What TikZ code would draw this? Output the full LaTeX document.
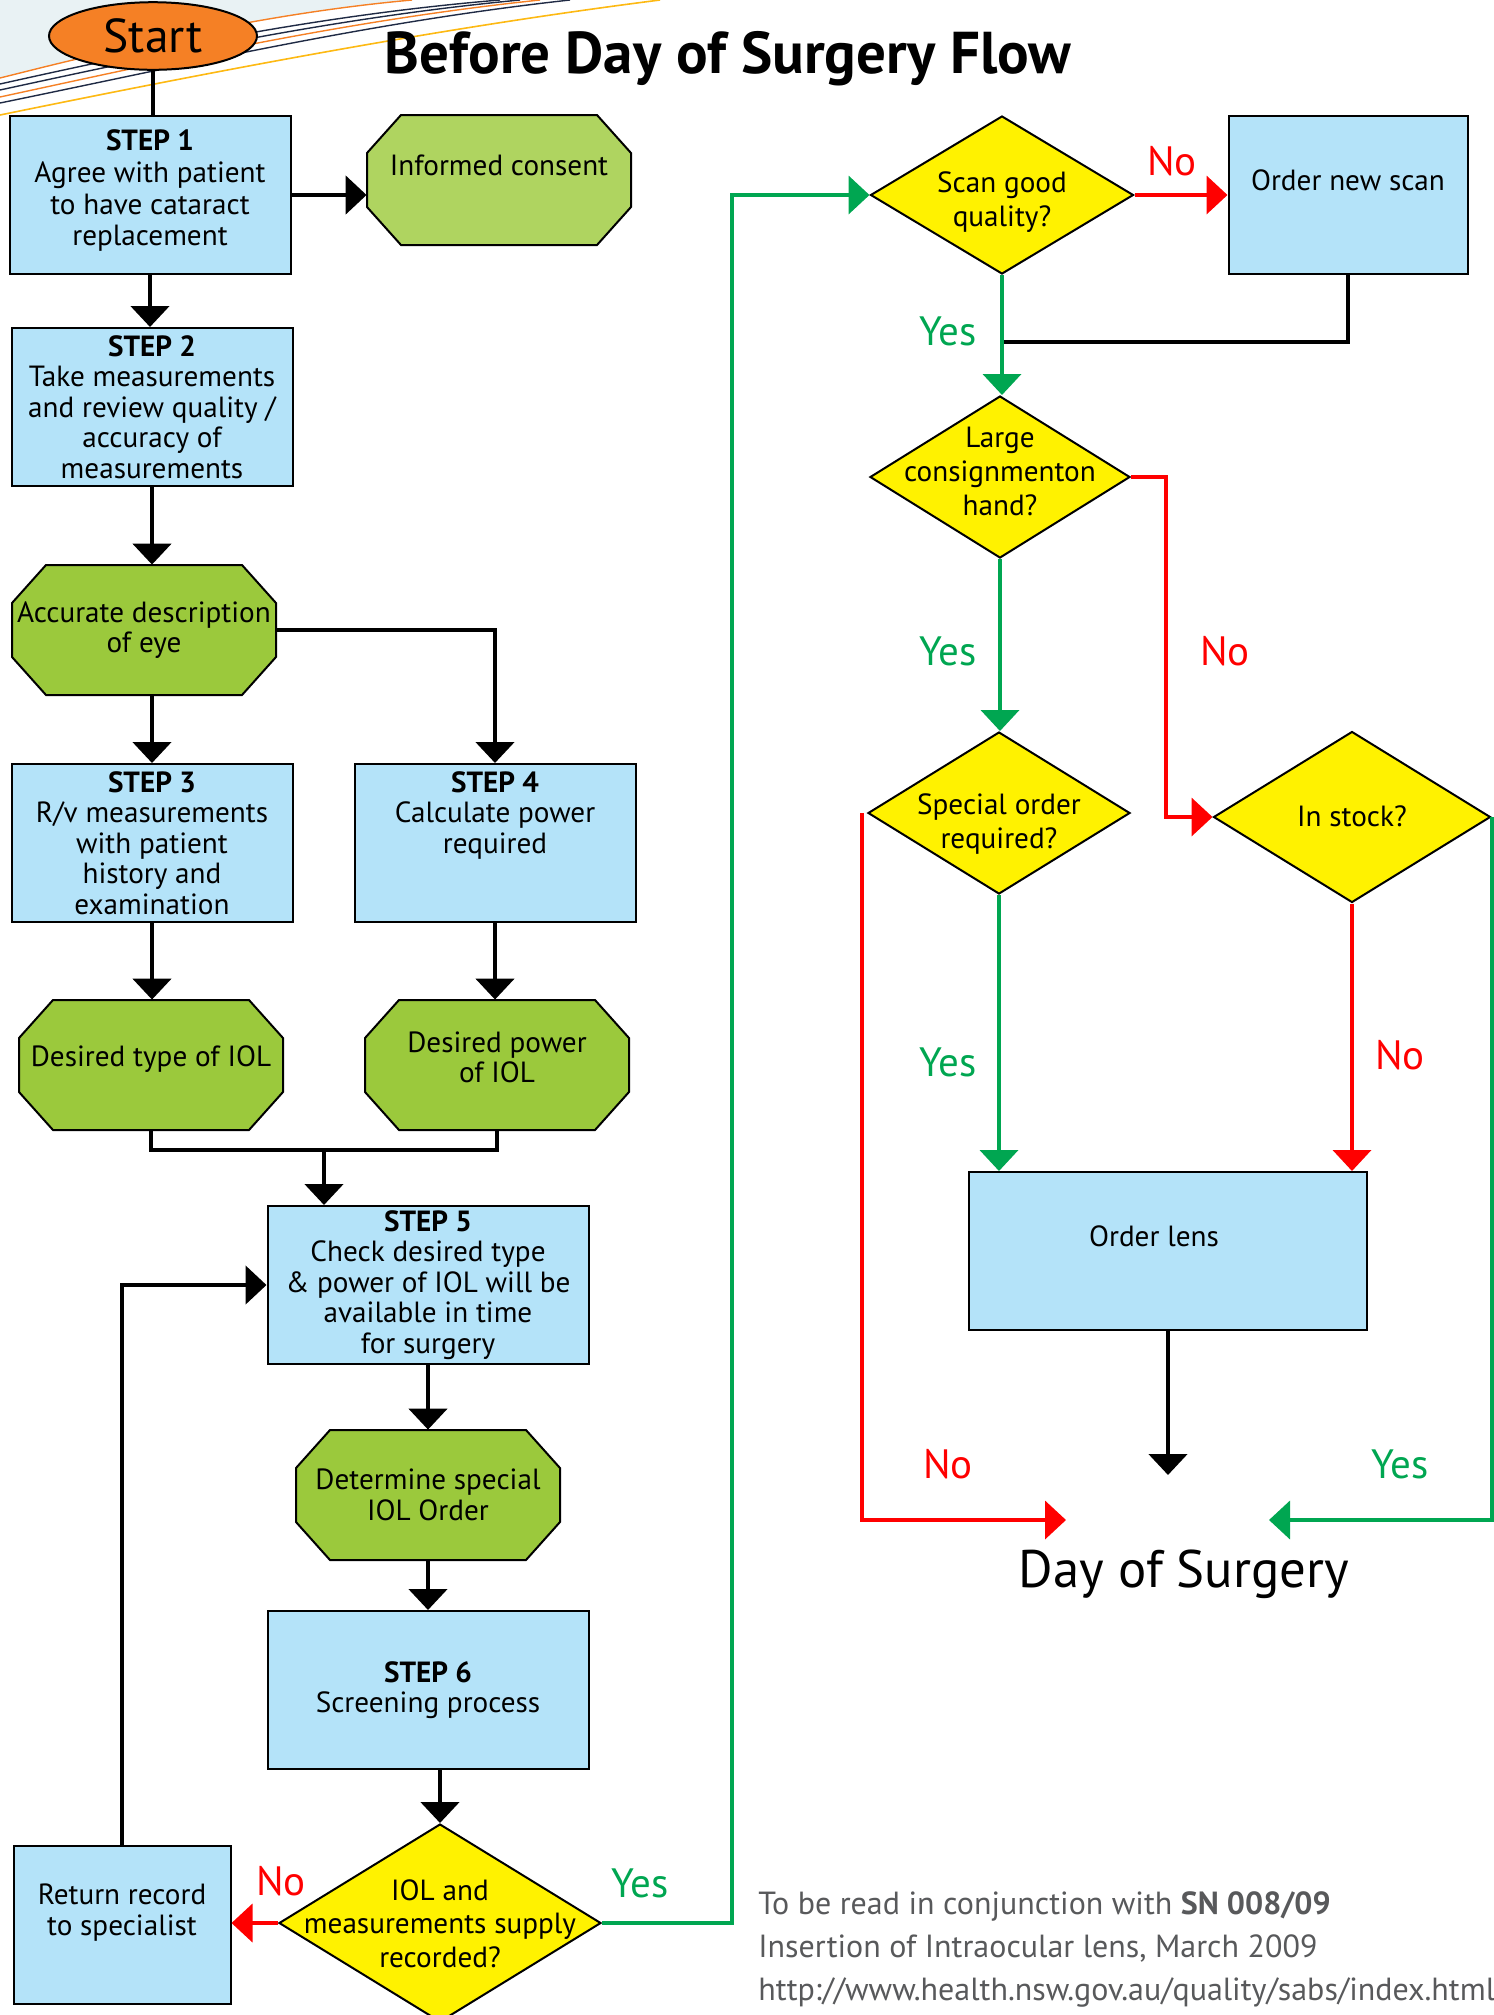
\documentclass[tikz,border=0pt]{standalone}
\usepackage{fontspec}
\setmainfont{PT Sans}
\usetikzlibrary{shapes.geometric,arrows.meta}
\definecolor{stepblue}{HTML}{B4E3F9}
\definecolor{octgreen}{HTML}{9BC93C}
\definecolor{consentgreen}{HTML}{AFD460}
\definecolor{qyellow}{HTML}{FFF200}
\definecolor{startorange}{HTML}{F58025}
\definecolor{nored}{HTML}{FF0000}
\definecolor{yesgreen}{HTML}{00A651}
\definecolor{footgray}{HTML}{58595B}
\definecolor{swishnavy}{HTML}{1F2A44}
\definecolor{swishyellow}{HTML}{FDB913}
\definecolor{washblue}{HTML}{E9F2F4}
\newcommand{\dtxt}[2][-5pt]{\raisebox{#1}[0pt][0pt]{\makebox[0pt]{\renewcommand{\arraystretch}{1.1}\begin{tabular}{@{}c@{}}#2\end{tabular}}}}
\newcommand{\octagon}[2]{\filldraw[line width=1pt,fill=#2] (#1) ++(-98,-65) -- ++(196,0) -- ++(34,38) -- ++(0,54) -- ++(-34,38) -- ++(-196,0) -- ++(-34,-38) -- ++(0,-54) -- cycle;}

\begin{document}
\begin{tikzpicture}[x=0.5pt,y=-0.5pt,
	txt/.style={font=\fontsize{14.6pt}{15.3pt}\selectfont},
	stepbox/.style={txt,draw,line width=1pt,fill=stepblue,rectangle,align=center,minimum width=140.5pt,minimum height=79pt,inner sep=1.5pt},
	octo/.style={txt,rectangle,align=center,minimum width=132pt,minimum height=65pt,inner sep=1pt},
	quest/.style={txt,draw,line width=1pt,fill=qyellow,diamond,inner sep=0pt},
	blk/.style={line width=2.4pt},
	blkarr/.style={blk,-{Triangle[width=19pt,length=10.5pt]}},
	yesarr/.style={line width=2pt,draw=yesgreen,-{Triangle[width=19pt,length=10.5pt]}},
	noarr/.style={line width=2pt,draw=nored,-{Triangle[width=19pt,length=10.5pt]}},
	yeslbl/.style={text=yesgreen,font=\fontsize{20.5pt}{24pt}\selectfont},
	nolbl/.style={text=nored,font=\fontsize{20.5pt}{24pt}\selectfont}]
						\useasboundingbox (0,0) rectangle (1494,2015);
						\fill[washblue] (0,0) -- (0,78) .. controls (150,40) and (280,12) .. (412,0) -- cycle;
						\draw[startorange,line width=0.7pt] (0,78) .. controls (150,40) and (280,12) .. (412,0);
						\draw[swishnavy,line width=0.7pt] (0,84) .. controls (170,46) and (330,14) .. (500,0);
						\draw[swishnavy,line width=0.7pt] (0,90) .. controls (175,52) and (340,17) .. (520,0);
						\draw[startorange,line width=0.7pt] (0,97) .. controls (180,58) and (350,20) .. (540,0);
						\draw[swishnavy,line width=0.7pt] (0,103) .. controls (190,64) and (370,22) .. (570,0);
						\draw[swishyellow,line width=0.8pt] (0,115) .. controls (220,70) and (440,28) .. (660,0);

						\node[draw,line width=1pt,fill=startorange,ellipse,minimum width=104pt,minimum height=31.5pt,font=\fontsize{23.8pt}{28pt}\selectfont] (start) at (153,36) {Start};
						\node[font=\bfseries\fontsize{29.5pt}{34pt}\selectfont] (title) at (728,59) {Before Day of Surgery Flow};

						\octagon{499,180}{consentgreen}
						\octagon{144,630}{octgreen}
						\octagon{151,1065}{octgreen}
						\octagon{497,1065}{octgreen}
						\octagon{428,1495}{octgreen}

						\node[stepbox] (s1) at (150,195) {\textbf{STEP 1}\\[0.6pt]Agree with patient\\[0.6pt]to have cataract\\[0.6pt]replacement\\[-8pt]\mbox{}};
						\node[octo] (consent) at (499,180) {Informed consent\\\mbox{}};
						\node[stepbox] (s2) at (152,407) {\textbf{STEP 2}\\Take measurements\\and review quality /\\accuracy of\\measurements};
						\node[octo] (eye) at (144,630) {Accurate description\\of eye};
						\node[stepbox] (s3) at (152,843) {\textbf{STEP 3}\\R/v measurements\\with patient\\history and\\examination};
						\node[stepbox] (s4) at (495,843) {\textbf{STEP 4}\\Calculate power\\required\\\mbox{}\\\mbox{}};
						\node[octo] (ioltype) at (151,1065) {Desired type of IOL\\[-6pt]\mbox{}};
						\node[octo] (iolpower) at (497,1065) {Desired power\\of IOL\\[-7.6pt]\mbox{}};
						\node[stepbox,minimum width=160.5pt] (s5) at (428,1285) {\textbf{STEP 5}\\Check desired type\\\& power of IOL will be\\available in time\\for surgery};
						\node[octo] (special) at (428,1495) {Determine special\\IOL Order};
						\node[stepbox,minimum width=160.5pt] (s6) at (428,1690) {\textbf{STEP 6}\\Screening process};
						\node[quest,minimum width=161pt,minimum height=99pt] (supply) at (440,1923) {\dtxt[-5.7pt]{IOL and\\measurements supply\\recorded?}};
						\node[stepbox,minimum width=108.5pt] (ret) at (122,1925) {Return record\\to specialist\\\mbox{}};

						\node[quest,minimum width=131.5pt,minimum height=79pt] (scan) at (1002,195) {\dtxt[-7.6pt]{Scan good\\quality?}};
						\node[stepbox,minimum width=119.5pt] (newscan) at (1348,195) {Order new scan\\\mbox{}};
						\node[quest,minimum width=130pt,minimum height=81pt] (stock) at (1000,477) {\dtxt[-2.4pt]{Large\\consignmenton\\hand?}};
						\node[quest,minimum width=131pt,minimum height=81pt] (sporder) at (999,813) {\dtxt[-9.5pt]{Special order\\required?}};
						\node[quest,minimum width=138.5pt,minimum height=85.5pt] (instock) at (1352,817) {\dtxt[-5pt]{In stock?}};
						\node[stepbox,minimum width=199pt] (lens) at (1168,1251) {Order lens\hspace*{14pt}\\\mbox{}};
						\node[font=\fontsize{26.4pt}{31pt}\selectfont] (surgery) at (1184,1574) {Day of Surgery};

						\coordinate (merge) at (324,1150);
						\coordinate (yesbus) at (732,1000);
						\coordinate (rejoin) at (1002,342);
						\coordinate (nobus) at (1166,650);
						\coordinate (surgtop) at (1165,1475);
						\coordinate (surgleft) at (1066,1520);
						\coordinate (surgright) at (1269,1520);

						\draw[blk] (start.south) -- (start.south |- s1.north);
						\draw[blkarr] (s1.east) -- (s1.east -| consent.west);
						\draw[blkarr] (s1.south) -- (s1.south |- s2.north);
						\draw[blkarr] (s2.south) -- (s2.south |- eye.north);
						\draw[blkarr] (eye.east) -| (s4.north);
						\draw[blkarr] (s3.north |- eye.south) -- (s3.north);
						\draw[blkarr] (s3.south) -- (s3.south |- ioltype.north);
						\draw[blkarr] (s4.south) -- (s4.south |- iolpower.north);
						\draw[blk] (ioltype.south) |- (merge) -| (iolpower.south);
						\draw[blkarr] (merge) -- (merge |- s5.north);
						\draw[blkarr] (s5.south) -- (s5.south |- special.north);
						\draw[blkarr] (special.south) -- (special.south |- s6.north);
						\draw[blkarr] (s6.south -| supply.north) -- (supply.north);
						\draw[noarr] (supply.west) -- (supply.west -| ret.east);
						\draw[blkarr] (ret.north) |- (s5.west);
						\draw[yesarr] (supply.east) -| (yesbus) |- (scan.west);

						\draw[noarr] (scan.east) -- (newscan.west);
						\draw[blk] (newscan.south) |- (rejoin);
						\draw[yesarr] (scan.south) -- (scan.south |- stock.north);
						\draw[yesarr] (stock.south) -- (stock.south |- sporder.north);
						\draw[noarr] (stock.east) -| (nobus) |- (instock.west);
						\draw[yesarr] (sporder.south) -- (sporder.south |- lens.north);
						\draw[noarr] (instock.south) -- (instock.south |- lens.north);
						\draw[blkarr] (lens.south) -- (lens.south |- surgtop);
						\draw[noarr] ([xshift=-2.5pt]sporder.west) |- (surgleft);
						\draw[yesarr] (instock.east) |- (surgright);

						\node[nolbl] (no1) at (1172,161) {No};
						\node[yeslbl] (yes1) at (948,331) {Yes};
						\node[yeslbl] (yes2) at (948,651) {Yes};
						\node[nolbl] (no2) at (1225,651) {No};
						\node[yeslbl] (yes3) at (948,1062) {Yes};
						\node[nolbl] (no3) at (1400,1055) {No};
						\node[nolbl] (no4) at (948,1464) {No};
						\node[yeslbl] (yes4) at (1400,1464) {Yes};
						\node[nolbl] (no5) at (281,1881) {No};
						\node[yeslbl] (yes5) at (640,1883) {Yes};

						\node[anchor=west,align=left,inner sep=0pt,text=footgray,font=\fontsize{16pt}{21.5pt}\selectfont] (note) at (758,1949) {To be read in conjunction with \textbf{SN 008/09}\\Insertion of Intraocular lens, March 2009\\http://www.health.nsw.gov.au/quality/sabs/index.html};
					\end{tikzpicture}
\end{document}
